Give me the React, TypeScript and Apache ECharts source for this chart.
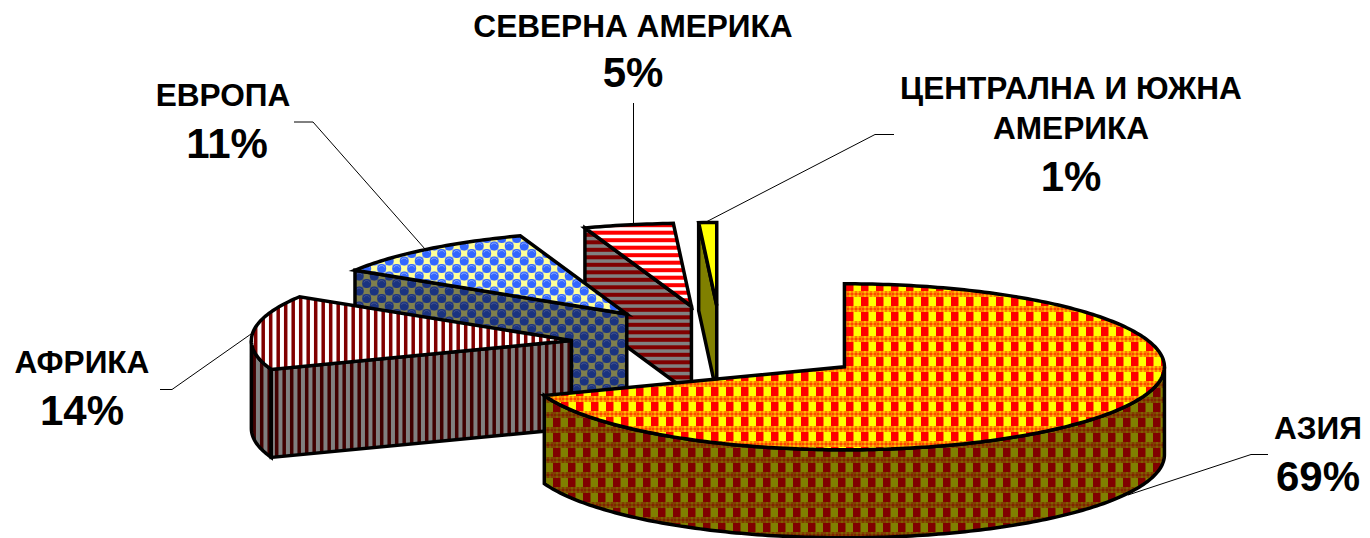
import React, { useEffect, useRef } from "react";
import * as echarts from "echarts";

const regionNames = ["АЗИЯ", "АФРИКА", "ЕВРОПА", "СЕВЕРНА АМЕРИКА", "ЦЕНТРАЛНА И ЮЖНА\nАМЕРИКА"];
const regionShares = [69.36, 14.49, 10.75, 4.5, 0.9];

// layout of the pie and its labels (page pixels)
const CX = 721, CY = 344.5, RX = 320, RY = 83, DEPTH = 88, EXPLODE = 0.47;
const nameAnchors = [[1318, 428], [82, 362], [223, 95], [633, 26], [1071, 108]];
const pctAnchors = [[1318, 476], [82, 410], [227, 143], [633, 72], [1071, 176]];
const leaders = [
  [[1268, 454.5], [1251, 454.5], [1128, 495]],
  [[160, 389.5], [172, 389.5], [251, 334]],
  [[294, 122], [313, 122], [425, 249]],
  [[633.5, 103], [633.5, 225]],
  [[894, 134.5], [875, 134.5], [706, 222]],
];

function tile(w: number, h: number, draw: (c: CanvasRenderingContext2D) => void) {
  const cv = document.createElement("canvas");
  cv.width = w; cv.height = h;
  draw(cv.getContext("2d") as CanvasRenderingContext2D);
  return { image: cv, repeat: "repeat", imageWidth: w, imageHeight: h } as any;
}

function wrapRect(c: CanvasRenderingContext2D, x: number, y: number, w: number, h: number, W: number, H: number) {
  for (const ox of [-W, 0, W]) for (const oy of [-H, 0, H]) c.fillRect(x + ox, y + oy, w, h);
}

function plaid(c1: string, c2: string, band: string, dx: number, dy: number) {
  return tile(15, 15, (c) => {
    c.fillStyle = band; c.fillRect(0, 0, 15, 15);
    c.globalAlpha = 0.45;
    for (let j = 0; j < 3; j++) for (let i = 0; i < 7; i++) {
      if ((i + j) % 2 === 0) continue;
      c.fillStyle = j === 1 ? c1 : c2;
      wrapRect(c, dx + i * 2 + 1, dy + 9 + j * 2, 2, 2, 15, 15);
    }
    c.globalAlpha = 1;
    c.fillStyle = c1; wrapRect(c, dx, dy, 7, 9, 15, 15);
    c.fillStyle = c2; wrapRect(c, dx + 8, dy, 7, 9, 15, 15);
  });
}

function vStripes(bg: string, fg: string, dx: number) {
  return tile(15, 4, (c) => {
    c.fillStyle = bg; c.fillRect(0, 0, 15, 4);
    c.fillStyle = fg;
    wrapRect(c, dx - 1.75, 0, 3.5, 4, 15, 4);
    wrapRect(c, dx + 5.75, 0, 3.5, 4, 15, 4);
  });
}

function hStripes(bg: string, fg: string, dy: number) {
  return tile(4, 15, (c) => {
    c.fillStyle = bg; c.fillRect(0, 0, 4, 15);
    c.fillStyle = fg;
    wrapRect(c, 0, dy - 2, 4, 4, 4, 15);
    wrapRect(c, 0, dy + 5.5, 4, 4, 4, 15);
  });
}

function bubbles(bg: string, blue: string, hi: string, yellow: string, dx: number, dy: number) {
  return tile(15, 15, (c) => {
    c.fillStyle = bg; c.fillRect(0, 0, 15, 15);
    const sq = (x: number, y: number) => { c.fillStyle = yellow; wrapRect(c, x - 3.25, y - 3.25, 6.5, 6.5, 15, 15); };
    sq(dx, dy); sq(dx + 7.5, dy + 7.5);
    const bub = (x: number, y: number) => {
      for (const ox of [-15, 0, 15]) for (const oy of [-15, 0, 15]) {
        c.fillStyle = blue;
        c.beginPath(); c.arc(x + ox, y + oy, 4.5, 0, Math.PI * 2); c.fill();
        c.strokeStyle = hi; c.lineWidth = 1;
        c.beginPath(); c.arc(x + ox, y + oy, 3, Math.PI * 1.1, Math.PI * 1.9); c.stroke();
      }
    };
    bub(dx + 7.5, dy); bub(dx, dy + 7.5);
  });
}

function buildFills() {
  return [
    { top: plaid("#ff0000", "#ffff00", "#ff8000", 6, 12), side: plaid("#800000", "#808000", "#804000", 13, 13) },
    { top: vStripes("#ffffff", "#800000", 0.7), side: vStripes("#808080", "#400000", 6.7) },
    {
      top: bubbles("#a8bcd8", "#3366ff", "#86a3ff", "#ffff99", 6.7, 6),
      side: bubbles("#545e6c", "#1a3380", "#43518f", "#80804d", 6.7, 6),
    },
    { top: hStripes("#ffffff", "#ff0000", 0.2), side: hStripes("#808080", "#800000", 2.3) },
    { top: "#ffff00", side: "#808000" },
  ];
}

const rad = (d: number) => (d * Math.PI) / 180;

function renderSlice(fills: any[]) {
  const total = regionShares.reduce((a, b) => a + b, 0);
  return (params: any, api: any) => {
    const i = params.dataIndex;
    const before = regionShares.slice(0, i).reduce((a, b) => a + b, 0);
    const a0 = (before / total) * 360;
    const a1 = a0 + (api.value(0) / total) * 360;
    const mid = rad((a0 + a1) / 2);
    const ax = CX + EXPLODE * RX * Math.sin(mid);
    const ay = CY - EXPLODE * RY * Math.cos(mid);
    const rim = (deg: number, drop = 0) => [ax + RX * Math.sin(rad(deg)), ay - RY * Math.cos(rad(deg)) + drop];
    const arc = (from: number, to: number, drop = 0) => {
      const pts: number[][] = [];
      const n = Math.max(2, Math.ceil(to - from));
      for (let k = 0; k <= n; k++) pts.push(rim(from + ((to - from) * k) / n, drop));
      return pts;
    };
    const z = 50 - i * 10;
    const line = { stroke: "#000", lineWidth: 3.5, lineJoin: "miter", miterLimit: 6 };
    const children: any[] = [];
    const wallFrom = Math.max(a0, 90), wallTo = Math.min(a1, 270);
    if (wallTo > wallFrom) {
      children.push({
        type: "polygon", z2: z,
        shape: { points: [...arc(wallFrom, wallTo), ...arc(wallFrom, wallTo, DEPTH).reverse()] },
        style: { fill: fills[i].side, ...line },
      });
    }
    if (a0 > 180 && a0 < 360) {
      const p = rim(a0);
      children.push({
        type: "polygon", z2: z + 1,
        shape: { points: [p, [ax, ay], [ax, ay + DEPTH], [p[0], p[1] + DEPTH]] },
        style: { fill: fills[i].side, ...line },
      });
    }
    children.push({
      type: "polygon", z2: z + 2,
      shape: { points: [[ax, ay], ...arc(a0, a1)] },
      style: { fill: fills[i].top, ...line },
    });
    children.push({
      type: "polyline", z2: 90,
      shape: { points: leaders[i] },
      style: { fill: "none", stroke: "#000", lineWidth: 1 },
    });
    children.push({
      type: "text", z2: 100,
      style: {
        text: regionNames[i], x: nameAnchors[i][0], y: nameAnchors[i][1], align: "center", verticalAlign: "middle",
        font: 'bold 31.6px "Liberation Sans", Arial, sans-serif', lineHeight: 40, fill: "#000",
      },
    });
    children.push({
      type: "text", z2: 100,
      style: {
        text: `${Math.round(api.value(0))}%`, x: pctAnchors[i][0], y: pctAnchors[i][1], align: "center", verticalAlign: "middle",
        font: 'bold 42px "Liberation Sans", Arial, sans-serif', fill: "#000",
      },
    });
    return { type: "group", children };
  };
}

export default function App() {
  const ref = useRef<HTMLDivElement>(null);
  useEffect(() => {
    if (!ref.current) return;
    const chart = echarts.init(ref.current, undefined, { renderer: "svg" });
    chart.setOption({
      animation: false,
      backgroundColor: "#ffffff",
      series: [{
        type: "custom",
        coordinateSystem: "none",
        silent: true,
        data: regionShares.map((v) => [v]),
        encode: { value: 0 },
        renderItem: renderSlice(buildFills()),
      }],
    });
    return () => chart.dispose();
  }, []);
  return <div ref={ref} style={{ position: "fixed", left: 0, top: 0, width: 1370, height: 538 }} />;
}
